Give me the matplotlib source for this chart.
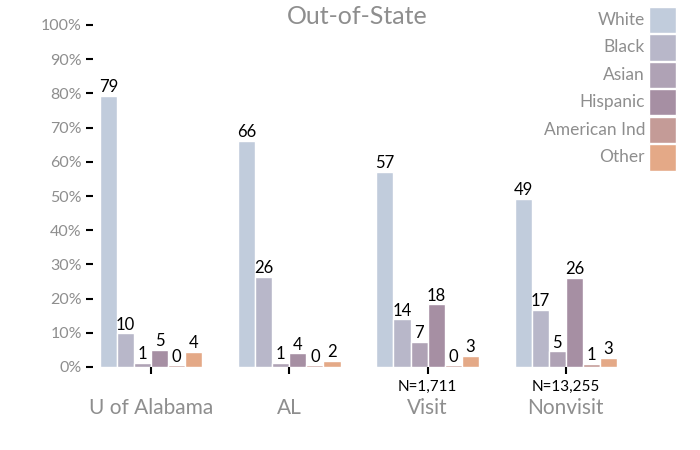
import matplotlib
matplotlib.use("Agg")
import matplotlib.pyplot as plt
from matplotlib.patches import Rectangle
import numpy as np

plt.rcParams['font.family'] = ['Lato', 'DejaVu Sans']

groups = ["U of Alabama", "AL", "Visit", "Nonvisit"]
n_labels = ["", "", "N=1,711", "N=13,255"]
series = ["White", "Black", "Asian", "Hispanic", "American Ind", "Other"]
white    = [79.2, 66.1, 57.0, 49.1]
black    = [9.8, 26.3, 13.9, 16.8]
asian    = [1.3, 1.3, 7.3, 4.6]
hispanic = [5.0, 4.0, 18.3, 26.1]
amind    = [0.5, 0.5, 0.5, 0.9]
other    = [4.4, 1.8, 3.3, 2.7]
values = [white, black, asian, hispanic, amind, other]
colors = ["#c1ccdc", "#b8b7c9", "#afa2b5", "#a68fa3", "#c49b97", "#e4a987"]
yticks = [0, 10, 20, 30, 40, 50, 60, 70, 80, 90, 100]

W, H = 700, 450
fig = plt.figure(figsize=(7, 4.5), dpi=100)
ax = fig.add_axes([93/W, 1-367/H, (635-93)/W, (367-25)/H])

x = np.arange(len(groups))
w = 0.1235
for i, (name, vals, c) in enumerate(zip(series, values, colors)):
    ax.bar(x + (i - 2.5) * w, vals, width=w, color=c, edgecolor="white",
           linewidth=1, label=name)
    for xi, v in zip(x + (i - 2.5) * w, vals):
        ax.annotate(f"{round(v)}", (xi, v), xytext=(0, 0.5), textcoords="offset points",
                    ha="center", va="bottom", fontsize=12, color="black")

ax.set_xlim(-0.42, 3.5)
ax.set_ylim(0, 100)
ax.set_yticks(yticks)
ax.set_yticklabels([f"{t}%" for t in yticks], color="#8e8e8e", fontsize=11.5)
ax.set_xticks(x)
ax.set_xticklabels(groups, color="#8e8e8e", fontsize=15)
ax.tick_params(axis="y", length=5, width=1.5, color="black", pad=3)
ax.tick_params(axis="x", length=5, width=1.5, color="black", pad=17)
for s in ax.spines.values():
    s.set_visible(False)

for xi, nl in zip(x, n_labels):
    if nl:
        ax.annotate(nl, (xi, 0), xytext=(0, -9), textcoords="offset points",
                    ha="center", va="top", fontsize=11, color="black")

fig.text(357/W, 1-17/H, "Out-of-State", ha="center", va="center",
         fontsize=18, color="#8e8e8e")

# legend: labels right-aligned to the left of square swatches
for k, (name, c) in enumerate(zip(series, colors)):
    top = 7 + k * 27.5
    fig.patches.append(Rectangle((649/W, 1-(top+26)/H), 27/W, 26/H,
                                 transform=fig.transFigure, facecolor=c,
                                 edgecolor="white", linewidth=1))
    fig.text(645/W, 1-(top+13)/H, name, ha="right", va="center",
             fontsize=12.5, color="#8e8e8e")

fig.savefig("out.png", dpi=100)
